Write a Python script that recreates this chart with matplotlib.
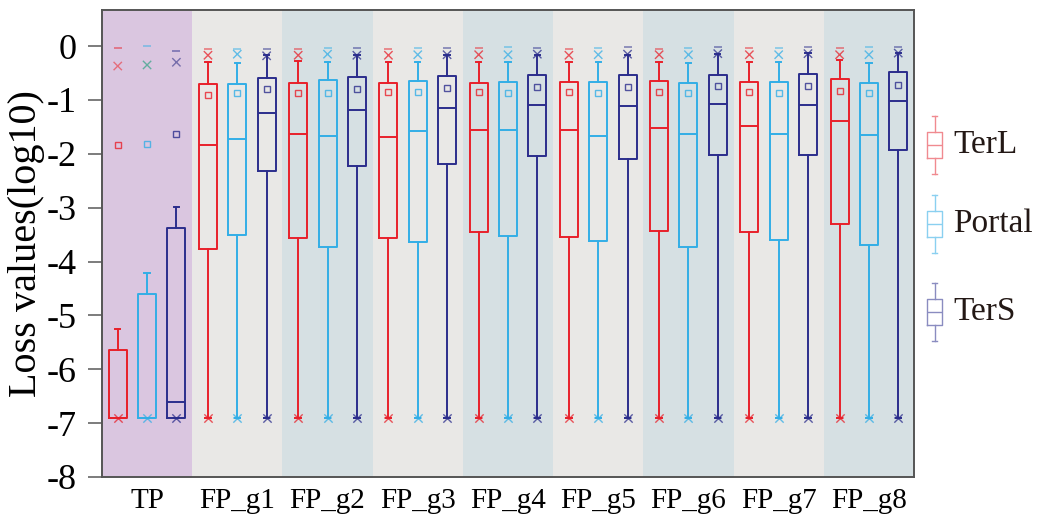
import numpy as np
import matplotlib
matplotlib.use("Agg")
import matplotlib.pyplot as plt

plt.rcParams['font.family'] = ['Liberation Serif', 'DejaVu Serif']

groups = ['TP', 'FP_g1', 'FP_g2', 'FP_g3', 'FP_g4', 'FP_g5', 'FP_g6', 'FP_g7', 'FP_g8']
series = ['TerL', 'Portal', 'TerS']
colors = ['#E8202A', '#33AEE6', '#2B2D8C']
p99_colors = ['#E8505A', '#3BA58A', '#55509A']

# box statistics (log10 loss), one value per group
terl_q1 = [-6.9, -3.77, -3.57, -3.56, -3.46, -3.55, -3.44, -3.46, -3.31]
terl_med = [-6.9, -1.84, -1.63, -1.68, -1.56, -1.56, -1.52, -1.48, -1.39]
terl_q3 = [-5.64, -0.71, -0.68, -0.69, -0.68, -0.67, -0.64, -0.66, -0.61]
terl_whi = [-5.25, -0.3, -0.28, -0.3, -0.29, -0.3, -0.3, -0.29, -0.26]
terl_wlo = [-6.9, -6.9, -6.9, -6.9, -6.9, -6.9, -6.9, -6.9, -6.9]
terl_mean = [-1.84, -0.91, -0.87, -0.86, -0.86, -0.86, -0.85, -0.85, -0.83]
terl_p99 = [-0.37, -0.17, -0.17, -0.17, -0.16, -0.17, -0.16, -0.16, -0.16]
terl_max = [-0.04, -0.06, -0.05, -0.05, -0.04, -0.05, -0.05, -0.04, -0.03]

portal_q1 = [-6.9, -3.51, -3.73, -3.64, -3.52, -3.62, -3.73, -3.6, -3.69]
portal_med = [-6.9, -1.72, -1.66, -1.57, -1.55, -1.66, -1.63, -1.64, -1.65]
portal_q3 = [-4.6, -0.71, -0.63, -0.65, -0.66, -0.67, -0.68, -0.67, -0.68]
portal_whi = [-4.21, -0.32, -0.3, -0.3, -0.3, -0.3, -0.31, -0.3, -0.31]
portal_wlo = [-6.9, -6.9, -6.9, -6.9, -6.9, -6.9, -6.9, -6.9, -6.9]
portal_mean = [-1.82, -0.88, -0.87, -0.86, -0.87, -0.87, -0.87, -0.87, -0.88]
portal_p99 = [-0.35, -0.15, -0.15, -0.16, -0.16, -0.16, -0.16, -0.16, -0.16]
portal_max = [0.0, -0.05, -0.03, -0.04, -0.02, -0.03, -0.03, -0.03, -0.01]

ters_q1 = [-6.9, -2.32, -2.22, -2.19, -2.04, -2.1, -2.03, -2.03, -1.93]
ters_med = [-6.6, -1.24, -1.18, -1.15, -1.1, -1.12, -1.08, -1.09, -1.02]
ters_q3 = [-3.38, -0.6, -0.58, -0.56, -0.53, -0.54, -0.53, -0.51, -0.49]
ters_whi = [-2.99, -0.17, -0.17, -0.16, -0.16, -0.16, -0.14, -0.13, -0.13]
ters_wlo = [-6.9, -6.9, -6.9, -6.9, -6.9, -6.9, -6.9, -6.9, -6.9]
ters_mean = [-1.63, -0.8, -0.8, -0.78, -0.76, -0.76, -0.75, -0.75, -0.73]
ters_p99 = [-0.3, -0.18, -0.17, -0.16, -0.15, -0.15, -0.14, -0.14, -0.13]
ters_max = [-0.1, -0.05, -0.04, -0.04, -0.03, -0.02, -0.02, -0.02, -0.01]

p1_val = [-6.9, -6.9, -6.9, -6.9, -6.9, -6.9, -6.9, -6.9, -6.9]

stats_all = [
    (terl_q1, terl_med, terl_q3, terl_wlo, terl_whi, terl_mean, terl_p99, terl_max),
    (portal_q1, portal_med, portal_q3, portal_wlo, portal_whi, portal_mean, portal_p99, portal_max),
    (ters_q1, ters_med, ters_q3, ters_wlo, ters_whi, ters_mean, ters_p99, ters_max),
]

bg_colors = ['#DAC6E0'] + ['#E9E8E6', '#D6E0E3'] * 4
offsets = [-0.325, 0.0, 0.325]

fig = plt.figure(figsize=(10.5, 5.27), dpi=100)
ax = fig.add_axes([0.0971, 0.0949, 0.7734, 0.8861])

x = np.arange(len(groups))
for i, c in enumerate(bg_colors):
    ax.axvspan(i - 0.5, i + 0.5, color=c, zorder=0, lw=0)

for k, (q1, med, q3, wlo, whi, mean, p99, mx) in enumerate(stats_all):
    col = colors[k]
    bstats = []
    for i in range(len(groups)):
        bstats.append(dict(q1=q1[i], med=med[i], q3=q3[i], whislo=wlo[i],
                           whishi=whi[i], mean=mean[i], fliers=[]))
    pos = x + offsets[k]
    ax.bxp(bstats, positions=pos, widths=0.2, showmeans=True, showfliers=False,
           boxprops=dict(color=col, lw=1.4),
           medianprops=dict(color=col, lw=1.4),
           whiskerprops=dict(color=col, lw=1.4),
           capprops=dict(color=col, lw=1.4),
           capwidths=0.06,
           meanprops=dict(marker='s', markerfacecolor='none', markeredgecolor=col,
                          markersize=5, markeredgewidth=1.0, alpha=0.8),
           manage_ticks=False, zorder=3)
    xc = [p99_colors[k]] + [col] * 8
    ax.scatter(pos, p99, marker='x', s=36, c=xc, linewidths=1.0, alpha=0.75, zorder=4)
    ax.scatter(pos, mx, marker='_', s=40, c=col, linewidths=1.2, alpha=0.55, zorder=4)
    ax.scatter(pos, p1_val, marker='x', s=36, c=col, linewidths=1.0, alpha=0.75, zorder=4)
    ax.scatter(pos, p1_val, marker='_', s=40, c=col, linewidths=1.2, alpha=0.55, zorder=4)

ax.set_xlim(-0.5, 8.5)
ax.set_ylim(-8, 0.67)
ax.set_yticks(range(-8, 1))
ax.set_yticklabels(['-8', '-7', '-6', '-5', '-4', '-3', '-2', '-1', '0'])
ax.set_xticks(x)
ax.set_xticklabels(groups)
ax.tick_params(axis='y', length=10, width=1.2, color='#666666', labelsize=26, pad=8)
ax.tick_params(axis='x', length=0, labelsize=21, pad=8)
for s in ax.spines.values():
    s.set_color('#555555')
    s.set_linewidth(1.4)
ax.set_ylabel('Loss values(log10)', fontsize=29, labelpad=1)

# legend drawn as small boxes in a side axes
lax = fig.add_axes([0.875, 0.3, 0.125, 0.5])
lax.set_xlim(0, 1)
lax.set_ylim(0, 1)
lax.axis('off')
leg_y = [0.85, 0.55, 0.215]
pale = ['#F08A90', '#8AD0F0', '#8A8CC0']
for k, name in enumerate(series):
    yc = leg_y[k]
    st = [dict(q1=yc - 0.05, med=yc, q3=yc + 0.05, whislo=yc - 0.11,
               whishi=yc + 0.11, fliers=[])]
    lax.bxp(st, positions=[0.12], widths=0.12, showfliers=False,
            boxprops=dict(color=pale[k], lw=1.0),
            medianprops=dict(color=pale[k], lw=1.0),
            whiskerprops=dict(color=pale[k], lw=1.0),
            capprops=dict(color=pale[k], lw=1.0),
            capwidths=0.04, manage_ticks=False)
    lax.text(0.265, yc, name, fontsize=24, va='center', ha='left', color='#231815')

fig.savefig('out.png', dpi=100)
